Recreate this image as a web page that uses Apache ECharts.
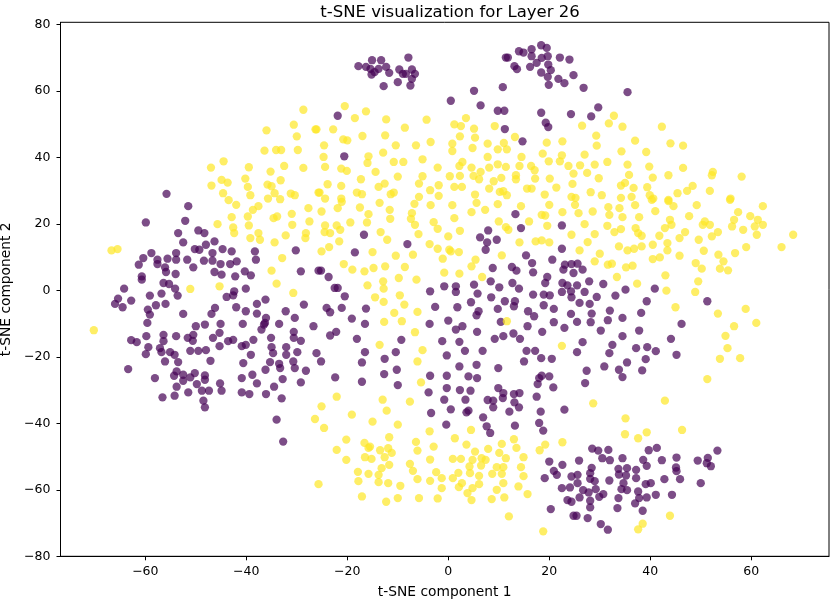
<!DOCTYPE html>
<html>
<head>
<meta charset="utf-8">
<script src="https://cdn.jsdelivr.net/npm/echarts@6/dist/echarts.min.js"></script>
<style>
  html, body { margin: 0; padding: 0; background: #fff; }
  #chart { width: 830px; height: 600px; }
</style>
</head>
<body>
<div id="chart"></div>
<script>
// t-SNE points, label 0 (purple) and label 1 (yellow)
var purplePoints = [
  // top cluster left
  [-17.8,67.4],[-16.3,67.2],[-15.1,69.2],[-15.4,66.6],[-14.6,65.6],[-15.2,64.9],[-13.3,69.2],[-13.8,66.6],
  [-12.3,67.2],[-11.7,65.4],[-12.8,61.4],[-10.0,62.6],[-9.7,66.4],[-9.0,65.1],[-7.9,70.0],[-7.2,66.4],
  [-6.6,65.1],[-7.2,63.6],[-7.5,61.6],[-8.4,65.1],
  // top cluster right
  [11.4,70.0],[11.8,70.0],[13.1,67.4],[13.6,66.5],[14.0,71.9],[14.9,71.5],[16.5,72.5],[16.5,70.4],
  [16.2,67.2],[17.5,68.4],[18.4,73.7],[19.5,72.9],[18.5,69.9],[19.7,70.4],[19.8,67.9],[20.3,66.2],
  [18.4,65.5],[19.7,64.2],[19.9,61.8],[22.1,70.0],[21.8,63.6],[23.0,62.3],[24.0,69.4],[24.8,64.7],
  [26.8,60.9],[35.5,59.6],[29.7,55.0],[28.3,52.3],[24.3,53.0],
  [5.1,60.0],[10.8,61.1],[0.5,57.0],[6.4,55.6],[9.8,54.0],[11.1,54.0],[18.4,53.4],[19.3,50.4],
  [19.8,49.1],[11.2,48.5],[14.7,44.8],[-21.9,52.5],[-20.6,40.3],[-55.8,29.0],
  // right middle
  [25.6,8.0],[24.8,5.2],[26.6,6.2],[27.9,2.7],[25.5,1.5],[30.7,1.9],[27.0,-0.5],[24.4,-2.1],
  [29.4,-2.0],[26.0,-3.8],[28.0,-4.1],[33.1,-1.6],[35.1,0.2],[40.9,0.5],[39.3,-3.3],[32.0,-6.1],
  [28.4,-7.0],[24.3,-7.1],[38.2,-6.8],[34.5,-8.3],[31.6,-9.0],[25.5,-9.5],[28.2,-9.6],[46.2,-10.1],
  [30.2,-12.1],[37.8,-12.1],[34.5,-13.8],[44.1,-14.6],[51.3,-3.3],[26.6,-15.6],[32.5,-16.4],[25.5,-18.6],
  [31.9,-18.9],[37.2,-17.4],[39.4,-17.1],[41.1,-18.3],[39.1,-20.7],[45.2,-19.4],[35.4,-21.7],[30.9,-22.9],
  [27.4,-24.2],[33.8,-23.9],[38.4,-24.1],[34.5,-26.1],[27.1,-27.9],
  // bottom right cluster
  [28.5,-47.6],[29.7,-48.2],[31.7,-48.0],[30.5,-50.5],[32.0,-51.1],[25.9,-51.2],[34.5,-50.5],[39.7,-48.1],
  [41.3,-47.4],[38.6,-51.0],[39.3,-52.8],[42.3,-51.1],[45.2,-50.3],[45.1,-53.3],[45.2,-54.4],[45.9,-56.8],
  [49.4,-51.2],[51.4,-50.4],[51.2,-52.0],[52.0,-52.9],[53.3,-48.2],[50.0,-58.0],[28.4,-53.4],[28.1,-55.0],
  [28.1,-56.7],[25.6,-55.5],[24.4,-56.0],[25.6,-58.0],[29.0,-57.4],[31.9,-57.2],[33.7,-53.7],[33.8,-55.4],
  [35.4,-53.5],[35.2,-55.7],[37.2,-54.0],[37.2,-56.5],[34.7,-58.0],[39.1,-58.3],[40.1,-58.0],[42.8,-56.8],
  [34.3,-59.8],[35.4,-60.1],[37.6,-60.5],[41.1,-61.5],[44.3,-61.5],[26.7,-60.1],[29.2,-59.8],[27.8,-60.8],
  [30.7,-61.3],[29.9,-62.1],[26.0,-62.3],[24.4,-63.6],[28.1,-63.3],[28.1,-65.3],[33.7,-62.5],[37.8,-62.5],
  [39.3,-62.3],[37.0,-64.1],[33.5,-65.5],[38.5,-66.3],[25.4,-67.8],[27.6,-68.5],[30.2,-70.3],[31.6,-72.0],
  [20.0,-51.5],[22.6,-52.5],[20.9,-54.3],[21.5,-55.5],[19.1,-56.5],[22.5,-59.5],[24.1,-59.3],[23.6,-63.1],
  [20.3,-65.8],[24.8,-67.8],
  // centre bottom
  [-22.4,-26.2],[-17.1,-27.5],[-12.7,-25.2],[-10.0,-28.5],[-3.6,-25.7],[-0.3,-25.7],[4.0,-25.9],[5.7,-26.4],
  [-3.9,-30.7],[-0.3,-29.4],[2.3,-30.0],[4.4,-30.2],[-0.8,-32.9],[3.4,-32.9],[0.5,-35.8],[-3.4,-36.9],
  [4.0,-36.2],[3.6,-36.7],[-0.4,-40.4],[9.9,-29.4],[10.9,-30.9],[10.8,-32.4],[7.8,-33.0],[8.9,-33.2],
  [13.0,-31.2],[14.1,-30.9],[13.1,-33.7],[14.0,-35.2],[8.9,-35.2],[12.1,-36.5],[6.9,-38.2],[7.6,-40.9],
  [8.3,-42.9],[13.2,-40.7],[18.0,-26.4],[20.0,-25.9],[17.7,-28.2],[20.8,-29.2],[17.5,-32.0],[18.3,-36.5],
  [23.0,-35.9],[18.0,-39.9],[18.8,-42.2],
  // left bottom
  [-58.1,-26.4],[-54.3,-25.7],[-56.6,-32.2],[-54.2,-31.7],[-53.8,-29.0],[-52.5,-27.2],[-51.1,-26.2],[-49.8,-28.2],
  [-51.5,-30.7],[-48.2,-26.9],[-48.8,-30.2],[-47.4,-30.2],[-48.5,-33.2],[-48.2,-35.2],[-45.2,-28.0],[-44.9,-30.2],
  [-40.9,-26.4],[-38.8,-25.4],[-37.9,-28.0],[-40.9,-30.7],[-39.4,-31.2],[-36.1,-31.2],[-34.5,-29.0],[-32.8,-26.7],
  [-33.0,-32.5],[-29.2,-27.7],[-34.0,-38.9],[-32.7,-45.5],
  // left middle
  [-51.5,25.3],[-52.1,20.9],[-59.9,20.4],[-53.5,17.2],[-49.5,18.0],[-48.3,17.2],[-52.5,14.4],[-48.0,13.7],
  [-46.3,14.7],[-50.2,12.4],[-49.3,12.2],[-44.7,12.4],[-42.9,11.7],[-58.8,11.2],[-60.4,9.7],[-61.3,7.7],
  [-57.6,9.2],[-57.6,7.9],[-55.6,9.5],[-53.9,11.2],[-53.9,9.2],[-51.7,9.2],[-50.5,6.9],[-48.4,8.9],
  [-46.7,11.2],[-46.7,8.9],[-45.1,7.9],[-43.2,7.9],[-41.9,8.7],[-56.1,6.9],[-55.9,5.5],[-60.7,4.2],
  [-60.7,3.2],[-54.0,4.9],[-56.4,2.2],[-55.3,1.9],[-54.1,0.5],[-53.6,-1.6],[-46.3,5.5],[-44.9,4.7],
  [-42.2,4.2],[-40.3,5.7],[-39.1,4.5],[-38.3,11.7],[-38.1,9.2],[-30.2,12.0],[-29.2,5.7],[-25.7,5.9],
  [-64.2,0.5],[-65.4,-2.5],[-66.0,-4.1],[-64.5,-5.1],[-62.8,-3.1],[-59.1,-1.6],[-56.8,-1.0],[-56.0,-4.1],
  [-57.9,-4.5],[-59.5,-5.8],[-59.1,-7.3],[-59.6,-9.8],[-52.5,-7.1],[-46.9,-7.1],[-46.2,-5.3],[-43.9,-2.0],
  [-42.6,-1.5],[-42.4,-0.3],[-42.0,-5.1],[-40.1,0.5],[-40.1,-6.3],[-37.9,-4.1],[-37.9,-7.0],[-36.2,-2.8],
  [-36.1,-8.3],[-36.3,-9.8],[-40.7,-10.1],[-48.2,-10.3],[-45.1,-10.1],[-50.0,-10.8],[-50.5,-13.4],[-51.6,-14.3],
  [-50.6,-15.2],[-45.3,-12.8],[-46.6,-14.3],[-45.3,-16.8],[-48.0,-18.0],[-49.5,-18.2],[-51.1,-18.2],[-53.9,-13.8],
  [-56.4,-13.4],[-56.4,-15.3],[-57.1,-17.4],[-59.8,-13.8],[-59.4,-17.1],[-59.9,-19.2],[-62.8,-15.0],[-61.7,-15.6],
  [-63.4,-23.7],[-56.8,-18.6],[-55.1,-18.6],[-54.2,-19.4],[-56.1,-21.4],[-53.5,-21.6],[-53.8,-24.4],[-52.5,-25.4],
  [-50.2,-24.9],[-47.1,-21.2],[-48.2,-25.6],[-42.6,-14.9],[-40.9,-16.8],[-40.1,-16.4],[-38.6,-14.9],[-39.1,-19.4],
  [-40.6,-21.9],[-37.0,-11.8],[-36.5,-10.3],[-35.1,-14.3],[-33.5,-10.1],[-32.2,-6.3],[-30.4,-8.3],[-28.6,-4.3],
  [-26.7,-10.8],[-30.6,-12.5],[-30.6,-14.3],[-29.2,-15.2],[-32.1,-17.1],[-35.0,-17.1],[-34.7,-18.9],[-32.1,-19.4],
  [-29.9,-18.6],[-26.1,-18.9],[-35.3,-21.6],[-33.5,-22.1],[-30.7,-21.4],[-36.2,-23.9],[-33.3,-23.4],[-30.4,-23.4],
  [-28.2,-24.2],[-43.6,-15.3],
  // centre
  [-16.7,16.7],[-8.1,13.9],[-18.5,11.4],[-25.2,5.9],[-23.7,4.0],[-22.5,0.7],[-21.9,0.7],[-20.5,-1.8],
  [-24.1,-5.3],[-23.4,-6.6],[-21.1,-5.3],[-16.3,-5.5],[-19.1,-8.5],[-16.5,-10.1],[-22.2,-12.5],[-23.4,-13.6],
  [-18.1,-14.6],[-25.2,-21.4],[-16.5,-18.6],[-17.1,-21.7],[-10.4,-18.6],[-12.6,-20.6],[-10.2,-23.9],[-9.3,-14.9],
  [-3.6,-0.3],[-0.8,1.2],[1.5,1.2],[1.5,-0.5],[5.1,1.7],[5.8,-1.0],[8.4,2.7],[10.1,0.9],
  [8.5,-2.1],[4.5,-3.6],[1.8,-5.1],[-2.6,-5.0],[6.0,-6.3],[5.6,-7.5],[9.8,-5.6],[11.2,-3.3],
  [13.2,-3.3],[13.0,-4.8],[-3.7,-10.1],[0.0,-9.1],[2.8,-10.8],[1.5,-11.8],[5.7,-12.5],[10.4,-9.5],
  [9.2,-14.6],[10.9,-13.8],[12.9,-13.0],[14.2,-14.6],[-1.2,-15.3],[2.2,-15.5],[3.3,-18.2],[6.8,-18.2],
  [-0.3,-19.6],[2.2,-22.9],[5.6,-22.4],[9.9,-23.4],[15.5,-18.2],[17.2,-18.2],[18.4,-20.4],[15.0,-21.4],
  [20.5,-20.6],[18.5,-25.7],[15.8,-6.3],[17.0,-7.8],[15.7,-10.8],[18.6,-12.5],[20.9,-9.6],[23.0,-11.3],
  [18.9,-4.5],[20.9,-5.6],[15.4,10.5],[16.6,8.2],[16.8,5.4],[12.6,7.0],[13.5,5.9],[8.8,6.7],
  [12.7,2.2],[14.0,0.5],[7.9,18.0],[6.3,15.9],[7.7,14.4],[9.6,15.2],[7.4,12.2],[13.3,22.9],
  [14.4,18.7],[22.5,19.5],[22.5,12.5],[20.6,9.2],[23.1,7.7],[22.8,6.2],[24.4,7.9],[19.6,4.0],
  [19.2,2.2],[22.6,2.2],[22.5,-0.5],[24.3,-0.3],[20.1,-1.5],[18.9,-1.3],[16.8,-1.3],[23.6,1.5]
];

var yellowPoints = [
  // top left
  [-28.7,54.3],[-30.6,49.8],[-36.0,48.1],[-26.3,48.4],[-30.0,46.3],[-36.4,42.0],[-34.1,42.2],[-33.1,42.2],
  [-29.8,42.2],[-44.5,38.8],[-47.0,36.9],[-39.5,37.0],[-35.2,35.7],[-32.5,37.4],[-28.7,36.8],[-44.9,33.2],
  [-43.7,32.4],[-40.2,33.6],[-46.9,31.5],[-39.7,31.1],[-35.8,31.8],[-35.0,31.3],[-33.2,33.1],[-44.6,29.2],
  [-39.2,28.6],[-34.4,29.2],[-31.2,29.1],[-30.4,28.6],[-25.7,29.4],[-35.7,27.6],[-33.3,27.4],[-43.5,27.1],
  // top centre
  [-20.5,55.4],[-16.3,53.8],[-18.5,51.8],[-12.3,51.4],[-4.3,51.3],[-26.1,48.4],[-22.8,48.4],[-8.6,48.9],
  [-17.0,46.4],[-12.5,46.6],[-20.8,45.4],[-20.0,45.1],[-24.6,43.6],[-10.4,43.6],[-6.4,43.6],[-3.5,44.6],
  [1.2,49.9],[2.5,49.4],[3.5,51.8],[5.1,48.6],[9.2,49.4],[2.3,46.3],[5.3,45.9],[0.8,44.1],
  [0.8,41.9],[4.8,42.8],[7.8,44.1],[11.0,44.3],[9.8,42.4],[11.6,42.4],[13.2,46.1],[14.5,40.1],
  [19.5,44.4],[22.6,44.8],[18.7,41.1],[19.9,38.8],[22.5,40.6],[22.1,38.8],[23.8,37.4],[24.8,35.1],
  [-24.7,40.1],[-24.4,37.1],[-21.2,36.6],[-20.1,35.9],[-15.8,40.3],[-16.0,38.3],[-12.9,41.4],[-10.8,38.6],
  [-8.9,38.6],[-5.1,39.4],[-2.1,36.9],[2.2,37.4],[2.8,38.6],[4.6,36.9],[7.8,40.1],[8.1,36.9],
  [9.8,37.9],[11.4,37.1],[14.1,37.4],[16.4,37.4],[17.1,36.1],[-14.4,35.6],[-10.0,34.2],[-5.1,34.3],
  [-17.3,33.4],[-23.9,31.9],[-21.2,31.4],[-12.6,32.1],[-13.8,31.1],[-5.8,32.1],[-1.9,31.6],[0.3,34.3],
  [2.3,34.4],[5.0,34.4],[6.4,35.6],[6.1,33.4],[9.0,32.8],[10.5,33.8],[13.4,34.6],[13.4,33.4],
  [17.2,33.6],[20.1,33.6],[1.2,31.1],[2.7,31.1],[8.1,30.6],[10.9,29.8],[11.6,28.6],[15.6,30.6],
  [16.5,30.6],[21.4,30.9],[-25.5,29.4],[-24.4,27.6],[-21.2,27.6],[-18.1,29.4],[-17.1,28.9],[-11.4,28.9],
  [-10.8,29.4],[-5.8,28.1],[-3.6,30.1],[-1.9,28.4],[5.3,28.8],[10.2,29.6],[19.1,28.8],[24.4,28.1],
  // top right
  [32.8,52.5],[31.8,50.2],[26.5,49.5],[34.5,49.2],[42.3,49.2],[29.3,46.5],[29.4,43.5],[37.0,45.0],
  [44.0,44.2],[46.5,43.5],[34.3,41.8],[39.2,41.6],[27.0,40.8],[31.5,38.6],[35.5,37.8],[39.8,37.2],
  [26.1,37.6],[29.0,37.8],[46.5,36.8],[27.5,35.3],[35.8,34.7],[29.8,33.7],[40.5,33.9],[43.6,34.6],
  [52.4,35.6],[52.2,34.6],[58.1,34.2],[48.4,31.4],[24.6,32.0],[34.2,31.5],[35.0,32.3],[36.7,30.8],
  [39.4,31.0],[47.3,29.9],[51.8,29.9],[45.4,29.2],[28.2,29.5],[30.4,28.6],[25.2,27.8],[34.2,27.8],
  [36.3,28.1],[39.9,28.6],[40.6,27.6],[43.6,27.2],[55.9,27.6],
  // right
  [25.1,25.7],[25.8,23.2],[28.6,23.7],[31.7,25.0],[31.9,22.7],[33.9,24.7],[34.5,22.0],[37.0,25.6],
  [37.8,22.0],[41.0,23.8],[40.3,27.2],[43.6,26.8],[44.6,25.3],[49.2,25.6],[55.8,27.2],[62.3,25.3],
  [57.4,23.5],[56.6,21.2],[59.8,22.3],[61.3,21.2],[62.3,19.7],[60.7,19.2],[58.4,18.2],[61.1,16.7],
  [56.2,19.2],[68.3,16.7],[66.0,13.0],[59.0,13.0],[56.8,11.2],[27.0,19.9],[31.5,19.4],[34.2,18.4],
  [32.9,17.5],[37.1,18.7],[37.6,17.2],[38.3,16.4],[43.9,21.2],[44.2,19.7],[42.9,18.7],[41.8,16.4],
  [46.9,17.5],[45.8,15.7],[47.7,22.3],[50.4,19.7],[50.8,20.7],[51.8,19.7],[53.4,17.5],[52.2,16.2],
  [49.6,15.2],[24.4,16.7],[29.0,16.9],[27.6,14.5],[26.0,12.0],[30.0,11.0],[33.8,13.2],[35.5,12.0],
  [36.8,12.5],[38.3,13.2],[40.5,13.7],[43.4,14.2],[43.4,12.0],[50.6,11.9],[53.5,10.7],[54.5,8.7],
  [53.8,6.5],[55.4,6.0],[45.8,10.4],[49.0,8.2],[50.2,6.5],[29.0,8.7],[31.6,7.7],[32.4,8.0],
  [35.2,6.9],[36.5,7.4],[40.5,9.4],[41.9,9.9],[33.4,4.0],[37.4,2.0],[43.0,4.5],[49.5,2.7],
  [43.2,-0.1],[48.9,-0.5],[45.0,-5.1],[53.4,-7.0],[58.9,-5.6],[61.0,-9.8],[56.6,-10.8],[54.9,-13.7],
  [55.3,-17.4],[57.8,-20.4],[53.8,-20.6],[51.3,-26.7],
  // bottom right scattered
  [28.7,-34.0],[42.9,-33.2],[35.1,-38.5],[35.0,-43.3],[37.6,-44.5],[39.3,-42.7],[46.3,-42.0],[43.9,-67.8],
  [38.5,-70.2],[37.6,-71.9],
  // bottom centre
  [-5.4,-27.7],[-22.1,-32.0],[-25.1,-34.9],[-26.4,-38.7],[-24.6,-41.4],[-19.1,-37.4],[-13.0,-32.9],[-12.2,-36.2],
  [-7.6,-33.5],[-15.0,-39.5],[-10.0,-40.4],[-3.7,-42.4],[4.5,-42.0],[-20.2,-44.9],[-22.1,-48.0],[-20.2,-51.0],
  [-16.6,-45.9],[-15.5,-47.0],[-15.8,-47.4],[-11.7,-44.2],[-11.9,-47.5],[-11.2,-48.9],[-13.5,-48.1],[-16.5,-50.2],
  [-15.2,-50.7],[-12.6,-50.2],[-11.7,-52.5],[-13.2,-53.5],[-13.8,-55.5],[-13.8,-57.7],[-11.9,-58.0],[-17.9,-54.6],
  [-15.8,-55.2],[-17.8,-57.4],[-17.1,-62.0],[-12.3,-63.6],[-10.0,-62.5],[-9.5,-58.8],[-25.7,-58.3],[-6.4,-45.6],
  [-6.1,-48.2],[-2.9,-47.0],[-3.6,-50.9],[-7.6,-52.2],[-7.0,-54.3],[-6.1,-56.8],[-3.6,-57.3],[-2.4,-54.7],
  [-1.3,-56.5],[-1.3,-59.5],[-5.8,-62.5],[-2.1,-62.6],[1.3,-44.5],[3.6,-46.4],[5.3,-48.5],[0.9,-50.7],
  [2.5,-50.7],[4.8,-51.0],[6.6,-50.5],[7.4,-51.0],[7.9,-47.7],[10.6,-46.2],[10.1,-48.9],[11.4,-50.5],
  [13.0,-44.8],[13.5,-47.4],[14.9,-50.2],[4.2,-53.0],[6.5,-52.7],[9.6,-53.2],[10.9,-53.2],[14.4,-53.2],
  [2.0,-54.9],[4.3,-55.0],[8.7,-55.2],[10.6,-55.2],[14.9,-55.9],[0.9,-56.5],[6.1,-55.8],[2.7,-58.0],
  [2.1,-59.2],[6.1,-58.3],[10.9,-58.0],[13.9,-59.0],[4.8,-59.5],[9.6,-60.0],[15.7,-61.3],[3.8,-61.0],
  [4.6,-63.1],[8.6,-62.8],[11.1,-62.3],[12.0,-68.0],[18.8,-72.5],[18.1,-48.1],[19.2,-46.4],[22.6,-45.7],
  // left
  [-66.7,12.0],[-65.5,12.4],[-70.2,-12.0],[-51.1,0.4],[-45.3,1.2],[-45.7,19.9],[-42.9,22.0],[-42.6,18.9],
  [-42.4,17.2],[-39.5,19.5],[-39.7,22.2],[-38.7,24.2],[-37.6,25.3],[-42.0,25.7],[-39.2,15.7],[-37.6,17.2],
  [-37.3,15.2],[-34.6,21.7],[-33.9,22.2],[-31.0,23.0],[-30.9,19.7],[-32.2,16.5],[-34.4,14.4],[-28.2,17.2],
  [-28.3,15.7],[-27.5,20.7],[-27.7,24.7],[-32.9,9.7],[-35.0,5.9],[-34.0,2.0],[-30.7,-0.8],
  // centre
  [-25.1,23.7],[-21.9,24.7],[-21.1,26.6],[-17.5,24.9],[-13.6,26.3],[-11.6,24.2],[-15.8,22.9],[-16.1,20.4],
  [-19.4,20.4],[-24.4,19.5],[-22.1,19.5],[-21.4,18.2],[-24.5,17.5],[-23.4,17.2],[-21.6,14.7],[-23.6,13.0],
  [-25.1,11.7],[-13.4,17.5],[-12.1,15.2],[-11.5,21.5],[-7.2,23.2],[-7.4,21.5],[-6.7,26.0],[-5.9,16.9],
  [-6.6,19.7],[-2.9,20.5],[-2.1,18.5],[-3.5,25.6],[0.8,25.6],[1.2,21.7],[2.3,17.9],[0.0,16.2],
  [-3.7,13.9],[-2.1,12.5],[0.2,12.2],[0.5,11.7],[2.1,11.5],[-1.1,9.5],[-0.8,5.3],[2.2,5.0],
  [4.6,7.2],[5.4,9.2],[6.7,4.0],[10.6,10.5],[14.1,14.4],[17.3,14.7],[18.5,15.0],[20.0,14.4],
  [10.0,20.7],[11.4,19.0],[11.9,18.2],[16.0,20.7],[18.5,22.7],[19.2,22.5],[19.6,19.4],[22.6,23.5],
  [20.0,25.7],[14.4,25.3],[9.8,25.9],[5.6,26.3],[4.6,23.5],[7.3,24.2],
  [-20.7,7.9],[-19.0,6.2],[-16.6,5.7],[-14.8,6.7],[-12.5,7.2],[-15.0,11.5],[-10.4,10.4],[-7.0,10.7],
  [-8.6,7.0],[-9.8,3.7],[-12.9,2.7],[-12.8,0.5],[-16.0,1.5],[-6.3,3.2],[-14.5,-2.1],[-12.8,-3.5],
  [-9.6,-1.5],[-8.7,-4.3],[-10.7,-6.8],[-6.1,-6.5],[-9.2,-9.3],[-12.7,-9.5],[-6.6,-12.6],[-13.6,-16.4],
  [-5.1,-18.0],[-6.1,-21.4],[11.6,-9.3],[22.5,-16.7]
];

var xTicks = [-60, -40, -20, 0, 20, 40, 60];
var yTicks = [-80, -60, -40, -20, 0, 20, 40, 60, 80];

var font = 'DejaVu Sans';
var minus = function (v) { return String(v).replace('-', '\u2212'); };

var chart = echarts.init(document.getElementById('chart'), null, { renderer: 'canvas' });
chart.setOption({
  animation: false,
  backgroundColor: '#fff',
  title: {
    text: 't-SNE visualization for Layer 26',
    left: 445,
    textAlign: 'center',
    top: -1,
    textStyle: { fontFamily: font, fontSize: 16.5, fontWeight: 'normal', color: '#000' }
  },
  grid: {
    left: 60.5, right: 1, top: 22.3, bottom: 43.7,
    containLabel: false, outerBoundsMode: 'none',
    show: true, borderColor: '#000', borderWidth: 1, backgroundColor: 'transparent'
  },
  xAxis: {
    type: 'value',
    min: -76.8, max: 75.4,
    name: 't-SNE component 1',
    nameLocation: 'middle',
    nameGap: 29,
    nameTextStyle: { fontFamily: font, fontSize: 13.8, color: '#000' },
    axisLine: { show: true, onZero: false, lineStyle: { color: '#000' } },
    axisTick: { show: true, length: 4, customValues: xTicks, lineStyle: { color: '#000' } },
    axisLabel: { customValues: xTicks, margin: 9, fontFamily: font, fontSize: 12.5, color: '#000', formatter: minus },
    splitLine: { show: false }
  },
  yAxis: {
    type: 'value',
    min: -80, max: 80.6,
    name: 't-SNE component 2',
    nameLocation: 'middle',
    nameGap: 45,
    nameTextStyle: { fontFamily: font, fontSize: 13.8, color: '#000' },
    axisLine: { show: true, onZero: false, lineStyle: { color: '#000' } },
    axisTick: { show: true, length: 4, customValues: yTicks, lineStyle: { color: '#000' } },
    axisLabel: { customValues: yTicks, margin: 10, fontFamily: font, fontSize: 12.5, color: '#000', formatter: minus },
    splitLine: { show: false }
  },
  series: [
    {
      type: 'scatter',
      data: purplePoints,
      symbolSize: 8.3,
      itemStyle: { color: '#440154', opacity: 0.7 }
    },
    {
      type: 'scatter',
      data: yellowPoints,
      symbolSize: 8.3,
      itemStyle: { color: '#fde725', opacity: 0.7 }
    }
  ]
});
</script>
</body>
</html>
